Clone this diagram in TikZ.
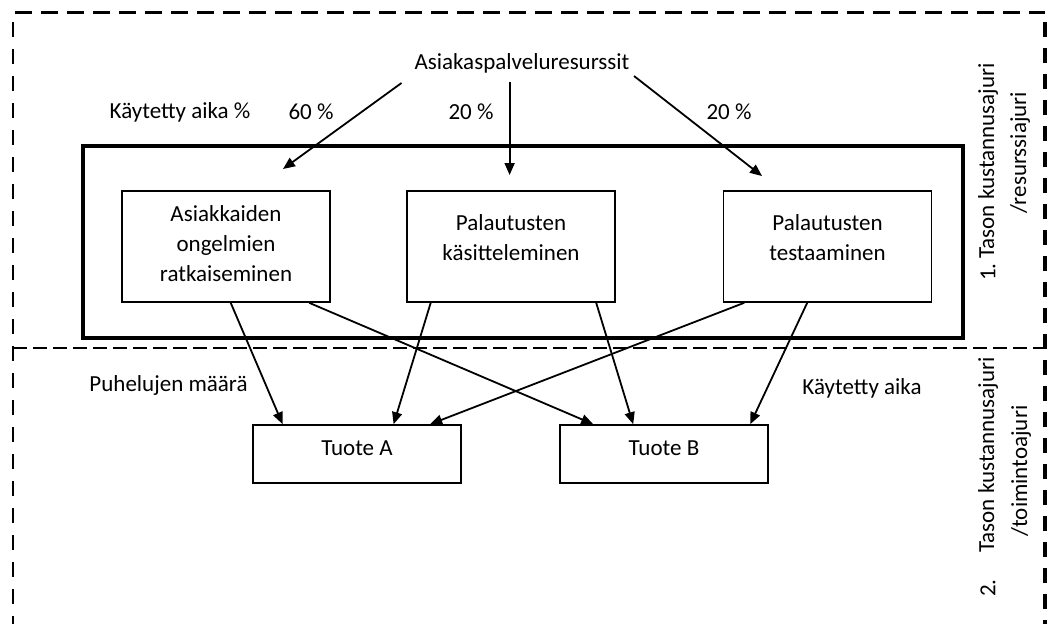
\documentclass[tikz,border=0pt]{standalone}
\usepackage{fontspec}
\setmainfont{Carlito}
\usetikzlibrary{arrows.meta,calc}
\begin{document}
\begin{tikzpicture}[x=1pt,y=-1pt,
  every node/.style={font=\fontsize{23}{30}\selectfont, inner sep=0pt},
  procbox/.style={draw, line width=1.6pt, minimum width=208pt, minimum height=111pt},
  prodbox/.style={draw, line width=1.6pt, minimum width=208pt, minimum height=58pt},
  groupframe/.style={draw, line width=3.5pt, minimum width=880pt, minimum height=192pt},
  boxtext/.style={align=center},
  sidetext/.style={rotate=90},
  arr/.style={line width=1.8pt, -{Triangle[length=12pt,width=10pt]}},
  levelline/.style={line width=3pt, dash pattern=on 17pt off 9pt},
]
\useasboundingbox (0,0) rectangle (1049,624);

% level borders
\draw[levelline] (15,12) -- (1045,12);
\draw[line width=1.6pt, dash pattern=on 15pt off 12pt] (13,22) -- (13,624);
\draw[line width=3.5pt, dash pattern=on 15pt off 11pt] (1045,22) -- (1045,624);
\draw[line width=2.2pt, dash pattern=on 14pt off 6pt] (13,348) -- (1045,348);

% activity group
\node[groupframe] (grp) at (523,242) {};

% resources and allocation shares
\node (src) at (522,63) {Asiakaspalveluresurssit};
\node (share) at (180,112) {Käytetty aika \%};
\node (p60) at (311,112) {60 \%};
\node (p20a) at (471,112) {20 \%};
\node (p20b) at (729,112) {20 \%};

\coordinate (s1) at (401.5,83);
\coordinate (e1) at (283,169);
\coordinate (s2) at (509.6,82);
\coordinate (e2) at (509.6,175);
\coordinate (s3) at (634,76);
\coordinate (e3) at (762,176);
\draw[arr] (s1) -- (e1);
\draw[arr] (s2) -- (e2);
\draw[arr] (s3) -- (e3);

% activities
\node[procbox] (b1) at (226,246.5) {};
\node[procbox] (b2) at (511,246.5) {};
\node[procbox] (b3) at (827.5,246.5) {};
\node[boxtext] (t1) at (226,243.5) {Asiakkaiden\\ongelmien\\ratkaiseminen};
\node[boxtext] (t2) at (511,238) {Palautusten\\käsitteleminen};
\node[boxtext] (t3) at (827.5,238) {Palautusten\\testaaminen};

% products
\node[prodbox] (ta) at (357,454) {};
\node[prodbox] (tb) at (664,454) {};
\node (tta) at (357,448) {Tuote A};
\node (ttb) at (664,448) {Tuote B};

% activity drivers
\node (drv1) at (168.5,385) {Puhelujen määrä};
\node (drv2) at (862,388) {Käytetty aika};

\draw[arr] ($(b1.south west)+(109.5,0)$) -- ($(ta.north west)+(30.4,0)$);
\draw[arr] ($(b1.south west)+(188,0)$) -- ($(tb.north west)+(34,0)$);
\draw[arr] ($(b2.south west)+(24.5,0)$) -- ($(ta.north west)+(141.4,0)$);
\draw[arr] ($(b2.south west)+(190,0)$) -- ($(tb.north west)+(74,0)$);
\draw[arr] ($(b3.south west)+(21.5,0)$) -- ($(ta.north west)+(178,0)$);
\draw[arr] ($(b3.south west)+(84.5,0)$) -- ($(tb.north west)+(191,0)$);

% level captions
\node[sidetext] (n1) at (988,272) {1.};
\node[sidetext] (l1a) at (988,161) {Tason kustannusajuri};
\node[sidetext] (l1b) at (1020,153) {/resurssiajuri};
\node[sidetext] (n2) at (988,588) {2.};
\node[sidetext] (l2a) at (988,455) {Tason kustannusajuri};
\node[sidetext] (l2b) at (1021,471) {/toimintoajuri};
\end{tikzpicture}
\end{document}
